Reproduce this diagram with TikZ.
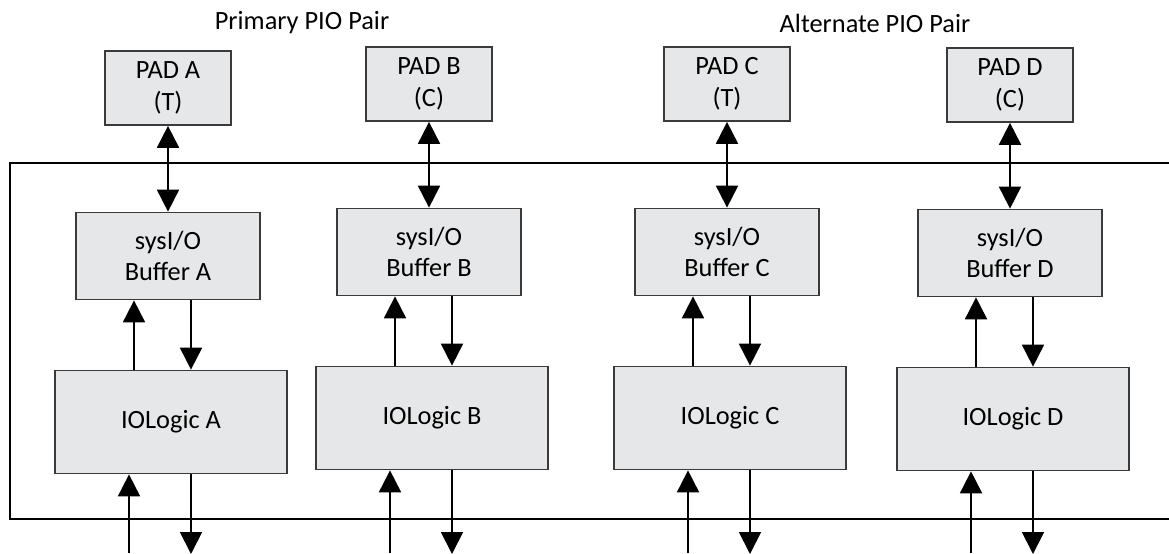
\documentclass[tikz,border=0pt]{standalone}
\usepackage{fontspec}
\setmainfont{Carlito}
\usetikzlibrary{arrows.meta}
\definecolor{pio_fill}{HTML}{E6E7E8}
\definecolor{pio_edge}{HTML}{3A3A3A}

\tikzset{
  piobox/.style={draw=pio_edge, fill=pio_fill, line width=1pt, align=center,
    inner sep=0pt, font=\fontsize{15}{18}\selectfont},
  padbox/.style={piobox, minimum width=2.52cm, minimum height=1.48cm},
  bufbox/.style={piobox, minimum width=3.68cm, minimum height=1.74cm},
  logbox/.style={piobox, minimum width=4.64cm, minimum height=2.06cm},
  sig/.style={line width=1.1pt, -{Triangle[width=12.5pt,length=12.5pt]}},
  bisig/.style={line width=1.1pt,
    {Triangle[width=12.5pt,length=12.5pt]}-{Triangle[width=12.5pt,length=12.5pt]}}
}

\begin{document}
\begin{tikzpicture}[x=0.02cm, y=-0.02cm]
    % Page size (1169 x 554)
    \useasboundingbox (0,0) rectangle (1169,554);

    % Group titles
    \node[font=\fontsize{15}{18}\selectfont] (primary) at (302,23) {Primary PIO Pair};
    \node[font=\fontsize{15}{18}\selectfont] (alternate) at (875,23) {Alternate PIO Pair};

    % Device edge, open on the right
    \draw[line width=1.1pt] (1169,163) -- (10,163) -- (10,519) -- (1169,519);

    % One column per pad: pad, buffer, IOLogic and their signals
    \foreach \n/\px/\dy/\t in {A/168/4/T, B/429/0/C, C/727/0/T, D/1010/1/C} {
      \node[padbox] (pad\n) at (\px, 84+\dy) {PAD \n\\(\t)};
      \node[bufbox] (buf\n) at (\px, 252+\dy) {sysI/O\\Buffer \n};
      \node[logbox] (log\n) at (\px+3, 418+\dy) {IOLogic \n};

      % Pad to buffer
      \draw[bisig] (pad\n.south) -- (pad\n.south |- buf\n.north);

      % Buffer to IOLogic
      \coordinate (up\n) at ([xshift=-0.68cm]buf\n.south);
      \coordinate (dn\n) at ([xshift=0.46cm]buf\n.south);
      \draw[sig] (up\n |- log\n.north) -- (up\n);
      \draw[sig] (dn\n) -- (dn\n |- log\n.north);

      % IOLogic to fabric
      \coordinate (in\n) at ([xshift=-0.84cm]log\n.south);
      \coordinate (out\n) at ([xshift=0.4cm]log\n.south);
      \draw[sig] (in\n |- 0,553) -- (in\n);
      \draw[sig] (out\n) -- (out\n |- 0,554);
    }

\end{tikzpicture}
\end{document}
